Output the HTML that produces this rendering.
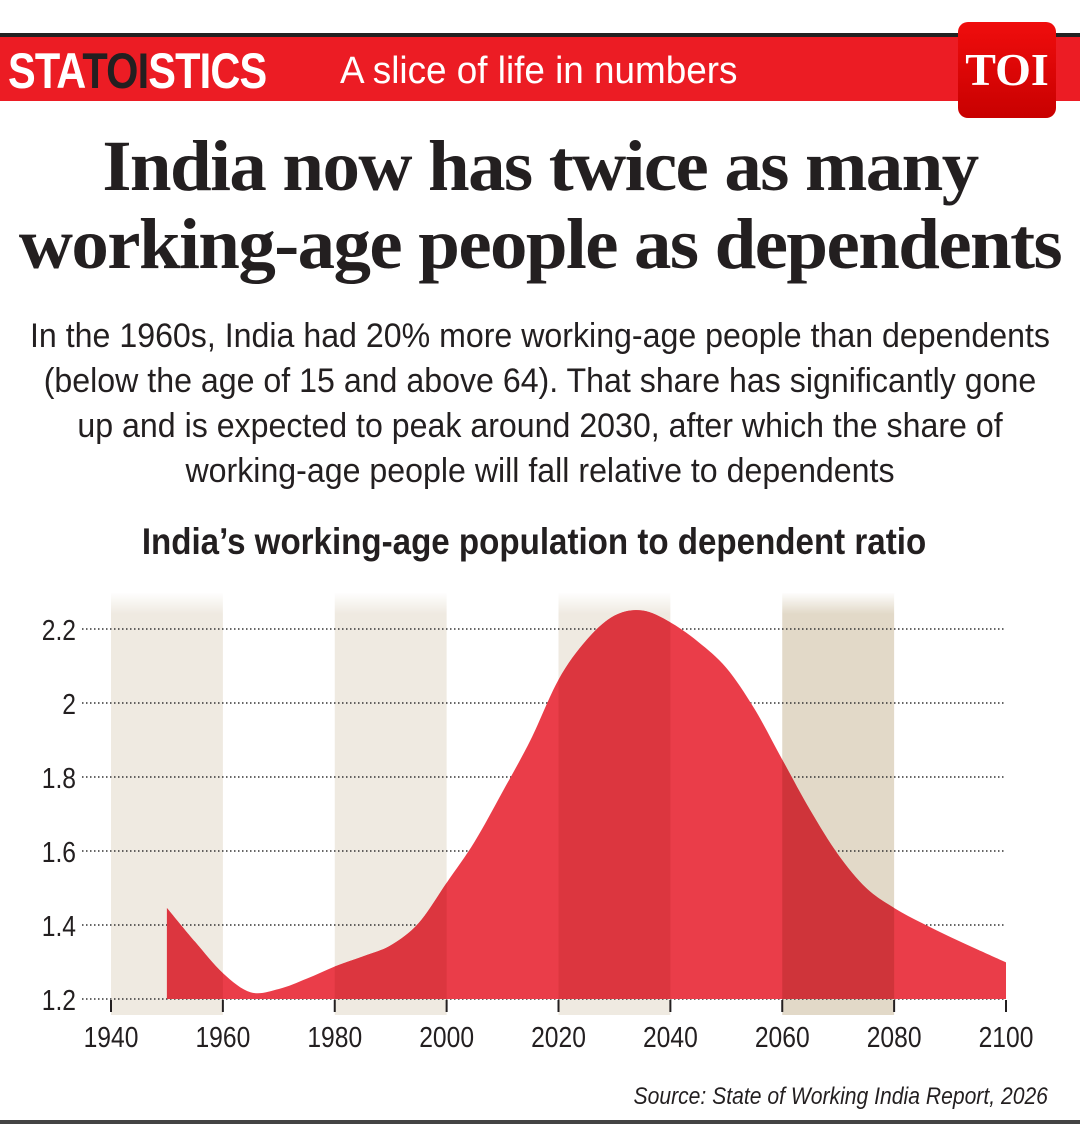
<!DOCTYPE html>
<html><head><meta charset="utf-8"><style>
body{margin:0;background:#fff;width:1080px;height:1124px;overflow:hidden;position:relative;font-family:"Liberation Sans",sans-serif}
.abs{position:absolute}
</style></head><body>
<div class="abs" style="left:0;top:33px;width:1080px;height:4px;background:#222"></div>
<div class="abs" style="left:0;top:37px;width:1080px;height:64px;background:#ec1c24"></div>
<div class="abs" style="left:8px;top:42px;font-size:50px;font-weight:bold;color:#fff;letter-spacing:-1px;transform:scaleX(0.83);transform-origin:left">STA<span style="color:#231f20">TOI</span>STICS</div>
<div class="abs" style="left:340px;top:50px;font-size:38px;color:#fff;transform:scaleX(0.97);transform-origin:left;white-space:nowrap">A slice of life in numbers</div>
<div class="abs" style="left:958px;top:22px;width:98px;height:96px;border-radius:10px;background:linear-gradient(#f00d0d,#c80000);color:#fff;font-family:'Liberation Serif',serif;font-size:46px;font-weight:bold;text-align:center;line-height:96px">TOI</div>
<div class="abs" style="left:0;top:127px;width:1080px;text-align:center;font-family:'Liberation Serif',serif;font-weight:bold;font-size:72px;line-height:78px;color:#231f20;letter-spacing:-1.5px;transform:scaleX(1.04)">India now has twice as many<br>working-age people as dependents</div>
<div class="abs" style="left:0;top:314px;width:1080px;text-align:center;font-size:34px;line-height:45px;color:#231f20;transform:scaleX(0.945);white-space:nowrap">In the 1960s, India had 20% more working-age people than dependents<br>(below the age of 15 and above 64). That share has significantly gone<br>up and is expected to peak around 2030, after which the share of<br>working-age people will fall relative to dependents</div>
<div class="abs" style="left:0;top:521px;width:1068px;text-align:center;font-size:37px;font-weight:bold;color:#231f20;transform:scaleX(0.895);white-space:nowrap">India’s working-age population to dependent ratio</div>
<svg class="abs" style="left:0;top:0" width="1080" height="1124" id="chart"></svg>
<div class="abs" style="right:32px;top:1083px;font-size:24px;font-style:italic;color:#231f20;transform:scaleX(0.88);transform-origin:right;white-space:nowrap">Source: State of Working India Report, 2026</div>
<div class="abs" style="left:0;top:1120px;width:1080px;height:4px;background:#444"></div>
<script>
const years=[1950,1955,1960,1965,1970,1975,1980,1985,1990,1995,2000,2005,2010,2015,2020,2025,2030,2035,2040,2045,2050,2055,2060,2065,2070,2075,2080,2085,2090,2095,2100];
const ratios=[1.446,1.355,1.27,1.218,1.227,1.255,1.288,1.315,1.345,1.405,1.514,1.625,1.76,1.9,2.063,2.17,2.236,2.25,2.218,2.165,2.095,1.985,1.847,1.71,1.59,1.5,1.446,1.405,1.368,1.333,1.299];
const yTicks=[1.2,1.4,1.6,1.8,2,2.2];
const xTicks=[1940,1960,1980,2000,2020,2040,2060,2080,2100];
const bands=[[1940,1960],[1980,2000],[2020,2040],[2060,2080]];
const NS='http://www.w3.org/2000/svg';
const svg=document.getElementById('chart');
const X=y=>111+(y-1940)*(1006-111)/160;
const Y=v=>999-(v-1.2)*370;
function mk(t,a){const e=document.createElementNS(NS,t);for(const k in a)e.setAttribute(k,a[k]);svg.appendChild(e);return e;}
const defs=mk('defs',{});
defs.innerHTML='<linearGradient id="bf" x1="0" y1="0" x2="0" y2="1"><stop offset="0" stop-color="#fff"/><stop offset="1" stop-color="#fff" stop-opacity="0"/></linearGradient><clipPath id="cp"><path id="cpp"/></clipPath>';
bands.forEach((b,i)=>{
 const r=mk('rect',{x:X(b[0]),y:593,width:X(b[1])-X(b[0]),height:422,fill:i==3?'#e2d9c8':'#efeae1'});
 
 
});
mk('rect',{x:100,y:592,width:920,height:22,fill:'url(#bf)'});
yTicks.forEach(v=>{
 const l=mk('line',{x1:82,x2:1006,y1:Y(v),y2:Y(v),stroke:'#333','stroke-width':1.5,'stroke-dasharray':'1.5 2.5'});
 
 
 const t=mk('text',{transform:'translate(76,'+(Y(v)+11)+') scale(0.85,1)','text-anchor':'end','font-size':29,fill:'#231f20'});
 t.textContent=String(v);
 
 
});
const pts=years.map((y,i)=>[X(y),Y(ratios[i])]);
let d='M'+X(years[0])+','+Y(1.2)+' L'+pts[0][0]+','+pts[0][1];
for(let i=0;i<pts.length-1;i++){
 const p0=pts[Math.max(0,i-1)],p1=pts[i],p2=pts[i+1],p3=pts[Math.min(pts.length-1,i+2)];
 const c1=i==0?p1:[p1[0]+(p2[0]-p0[0])/6,p1[1]+(p2[1]-p0[1])/6];
 const c2=[p2[0]-(p3[0]-p1[0])/6,p2[1]-(p3[1]-p1[1])/6];
 d+=' C'+c1[0]+','+c1[1]+' '+c2[0]+','+c2[1]+' '+p2[0]+','+p2[1];
}
d+=' L'+X(years[years.length-1])+','+Y(1.2)+' Z';
const area=mk('path',{d:d,fill:'#ea3d49'});


document.getElementById('cpp').setAttribute('d',d);
bands.forEach((b,i)=>{
 const r=mk('rect',{x:X(b[0]),y:593,width:X(b[1])-X(b[0]),height:422,fill:i==3?'#cf343a':'#dc363f','clip-path':'url(#cp)'});
 
 
});
xTicks.forEach(y=>{
 const l=mk('line',{x1:X(y),x2:X(y),y1:1000,y2:1012,stroke:'#231f20','stroke-width':2});
 
 
 const t=mk('text',{transform:'translate('+X(y)+',1047) scale(0.85,1)','text-anchor':'middle','font-size':29,fill:'#231f20'});
 t.textContent=String(y);
 
 
});
</script>
</body></html>
